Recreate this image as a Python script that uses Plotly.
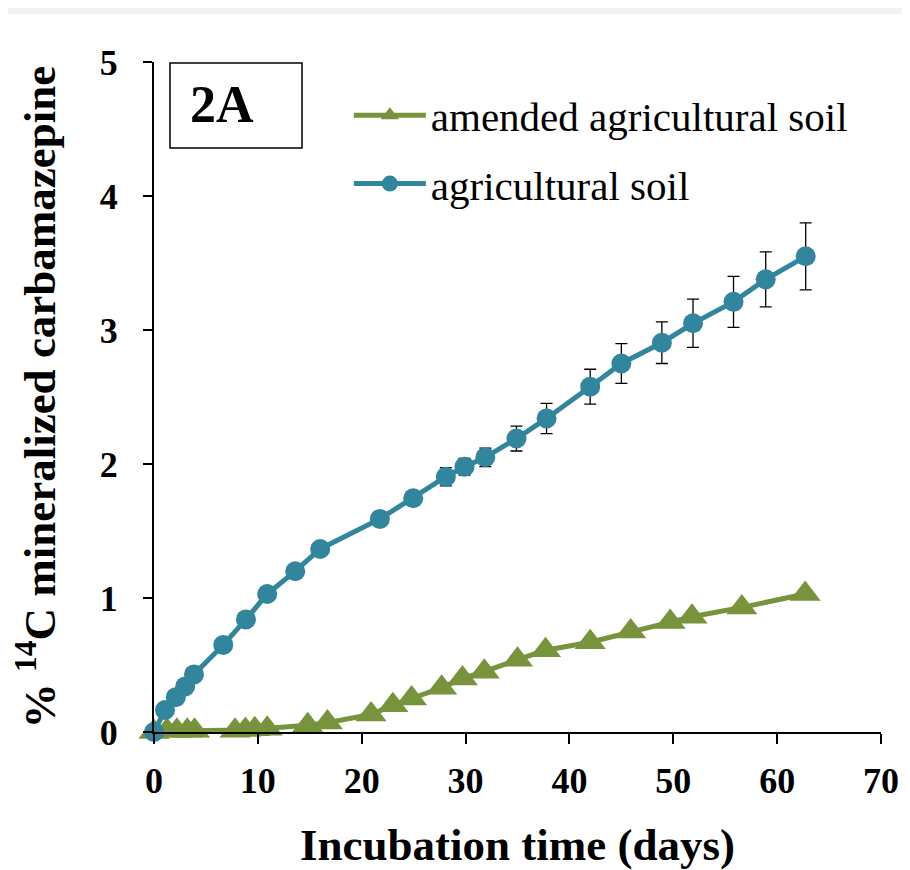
import plotly.graph_objects as go

# Agricultural soil (blue circles)
agri_days = [0, 1.06, 2.1, 3.0, 3.85, 6.67, 8.85, 10.9, 13.6, 16.0, 21.75, 24.96,
             28.1, 29.9, 31.9, 34.9, 37.8, 42.0, 45.0, 48.9, 51.9, 55.8, 58.9, 62.75]
agri_vals = [0, 0.164, 0.26, 0.34, 0.43, 0.65, 0.84, 1.03, 1.20, 1.366, 1.59, 1.744,
             1.905, 1.98, 2.05, 2.19, 2.34, 2.577, 2.75, 2.905, 3.05, 3.21, 3.378, 3.55]
agri_err = [0, 0.02, 0.02, 0.03, 0.03, 0.03, 0.03, 0.04, 0.04, 0.04, 0.05, 0.05,
            0.068, 0.062, 0.069, 0.093, 0.113, 0.13, 0.149, 0.155, 0.18, 0.19, 0.205, 0.25]

# Amended agricultural soil (green triangles)
amend_days = [0, 1.25, 2.2, 3.2, 3.9, 7.8, 8.8, 9.7, 10.9, 14.8, 16.7, 20.9, 23.0, 24.8,
              27.7, 29.7, 31.8, 35.0, 37.7, 42.0, 45.9, 49.7, 51.8, 56.6, 62.7]
amend_vals = [0, 0.01, 0.01, 0.01, 0.01, 0.01, 0.015, 0.02, 0.025, 0.05, 0.07, 0.13, 0.20,
              0.25, 0.33, 0.40, 0.45, 0.54, 0.61, 0.67, 0.75, 0.82, 0.86, 0.93, 1.03]
amend_err = [0, 0.005, 0.005, 0.005, 0.005, 0.005, 0.005, 0.005, 0.005, 0.01, 0.01, 0.015,
             0.02, 0.02, 0.02, 0.02, 0.02, 0.02, 0.02, 0.02, 0.02, 0.02, 0.02, 0.02, 0.02]

x_ticks = [0, 10, 20, 30, 40, 50, 60, 70]
y_ticks = [0, 1, 2, 3, 4, 5]

BLUE = "#31859C"
GREEN = "#77933C"
SERIF = "Liberation Serif"

fig = go.Figure()
fig.add_trace(go.Scatter(
    x=amend_days, y=amend_vals, name="amended agricultural soil",
    legendgroup="a", mode="lines+markers",
    line=dict(color=GREEN, width=5),
    marker=dict(symbol="triangle-up", size=27, color=GREEN),
    error_y=dict(type="data", array=amend_err, color="black", thickness=1.3, width=5),
    cliponaxis=False,
))
fig.add_trace(go.Scatter(
    x=agri_days, y=agri_vals, name="agricultural soil",
    legendgroup="b", mode="lines+markers",
    line=dict(color=BLUE, width=5),
    marker=dict(symbol="circle", size=20, color=BLUE),
    error_y=dict(type="data", array=agri_err, color="black", thickness=1.3, width=6),
    cliponaxis=False,
))

fig.update_layout(
    width=902, height=862,
    margin=dict(l=146, r=29, t=54, b=138, autoexpand=False),
    paper_bgcolor="white", plot_bgcolor="white",
    font=dict(family=SERIF, color="black"),
    showlegend=True,
    legend=dict(
        x=0.268, y=0.97, xanchor="left", yanchor="top",
        font=dict(family=SERIF, size=41, color="black"),
        bgcolor="rgba(0,0,0,0)", itemwidth=72, tracegroupgap=12,
    ),
    xaxis=dict(
        range=[0, 70], tickvals=x_ticks, ticktext=[str(v) for v in x_ticks],
        showline=True, linecolor="black", linewidth=2,
        ticks="outside", ticklen=10, tickwidth=2, tickcolor="black",
        showgrid=False, zeroline=False, automargin=False,
        tickfont=dict(family=SERIF, size=36, weight="bold"),
        ticklabelstandoff=6,
        title=dict(text="Incubation time (days)",
                   font=dict(family=SERIF, size=45, weight="bold"), standoff=28),
    ),
    yaxis=dict(
        range=[0, 5], tickvals=y_ticks, ticktext=[str(v) for v in y_ticks],
        showline=True, linecolor="black", linewidth=2,
        ticks="outside", ticklen=9, tickwidth=2, tickcolor="black",
        showgrid=False, zeroline=False, automargin=False,
        tickfont=dict(family=SERIF, size=36, weight="bold"),
        ticklabelstandoff=18,
        title=dict(text="% <sup>14</sup>C mineralized carbamazepine",
                   font=dict(family=SERIF, size=45, weight="bold"), standoff=33),
    ),
    shapes=[
        dict(type="rect", xref="paper", yref="paper",
             x0=0.022, x1=0.2036, y0=0.8716, y1=0.9985,
             line=dict(color="black", width=1.5), fillcolor="white", layer="above"),
        dict(type="rect", xref="paper", yref="paper",
             x0=-0.21, x1=1.05, y0=1.0716, y1=1.081,
             line=dict(width=0), fillcolor="#f3f0f1", layer="below"),
    ],
    annotations=[
        dict(text="2A", xref="paper", yref="paper", x=0.0935, y=0.936,
             xanchor="center", yanchor="middle", showarrow=False,
             font=dict(family=SERIF, size=52, weight="bold", color="black")),
    ],
)

fig.write_html("out.html")
